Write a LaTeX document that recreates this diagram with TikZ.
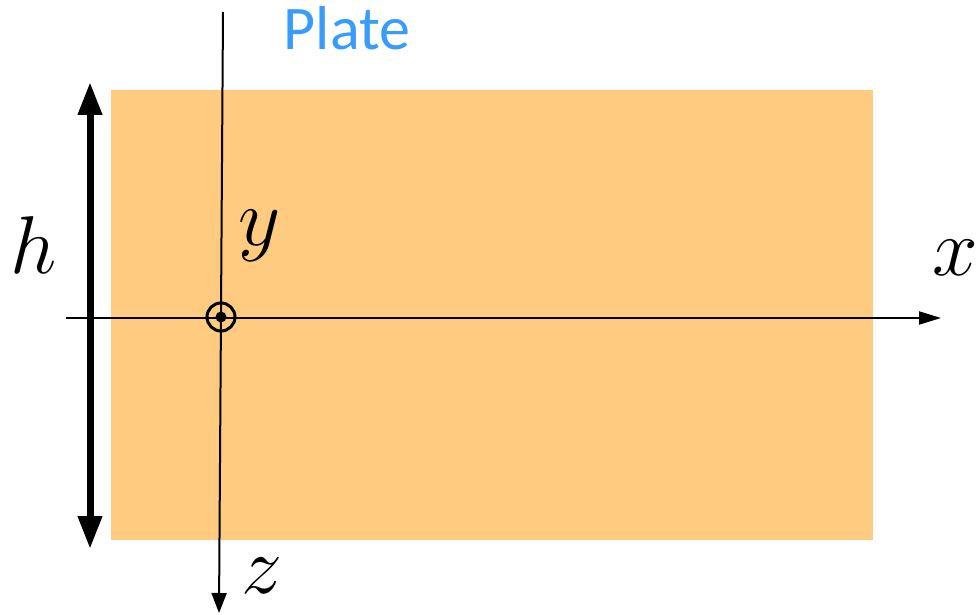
\RequirePackage{fix-cm}
\documentclass[tikz,border=0pt]{standalone}
\usepackage{fontspec}
\setsansfont{Carlito}
\usepackage{tikz}
\usetikzlibrary{arrows.meta}
\definecolor{platefill}{HTML}{FECB80}
\definecolor{plateblue}{HTML}{3A9CFA}

\begin{document}
\begin{tikzpicture}[x=1pt, y=-1pt,
    axislabel/.style={inner sep=0pt, anchor=base, font=\fontsize{82}{82}\selectfont}]
    \useasboundingbox (0,0) rectangle (978,615);
    % plate
    \fill[platefill] (111,90) rectangle (873,540);
    \node[inner sep=0pt, anchor=base, text=plateblue, font=\sffamily\fontsize{62}{62}\selectfont] (platelabel) at (347,50) {Plate};
    % axes
    \coordinate (xstart) at (66,318);
    \coordinate (xend) at (941,318);
    \coordinate (ztop) at (223,12);
    \coordinate (zend) at (219,613);
    \coordinate (origin) at (221,317);
    \draw[-{Triangle[length=22pt, width=13pt]}, line width=2pt] (xstart) -- (xend);
    \draw[-{Triangle[length=20pt, width=15pt]}, line width=2pt] (ztop) -- (zend);
    \draw[line width=3pt] (origin) circle (14);
    \fill (origin) circle (5.5);
    \node[axislabel] (xlabel) at (955,275) {$x$};
    \node[axislabel] (ylabel) at (260,245) {$y$};
    \node[axislabel] (zlabel) at (262,593) {$z$};
    % height
    \coordinate (htop) at (90,82);
    \coordinate (hbot) at (90,549);
    \draw[{Triangle[length=33pt, width=23pt]}-{Triangle[length=33pt, width=23pt]}, line width=7pt] (htop) -- (hbot);
    \node[axislabel] (hlabel) at (34,273) {$h$};
\end{tikzpicture}
\end{document}
